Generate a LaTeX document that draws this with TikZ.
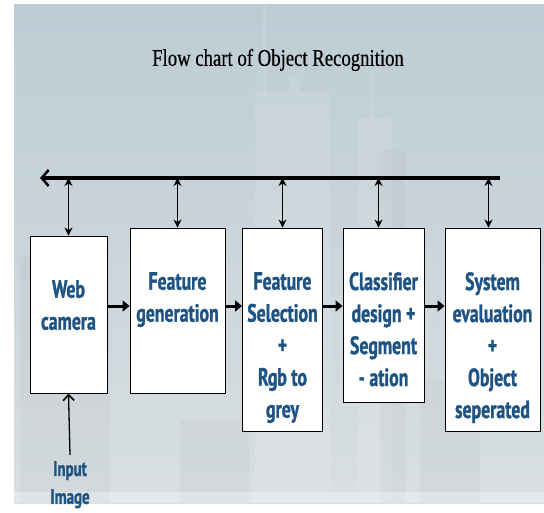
\documentclass[tikz,border=0pt]{standalone}
\usepackage{fontspec}
\setmainfont{Liberation Serif}
\newfontfamily\titlefont[FakeStretch=0.78,FakeBold=0.4]{Liberation Serif}
\newfontfamily\boxfont[FakeStretch=0.71,BoldFeatures={FakeBold=1.2}]{PT Sans}
\usetikzlibrary{arrows.meta,positioning}

\definecolor{bgtop}{RGB}{189,204,212}
\definecolor{bgbot}{RGB}{217,223,226}
\definecolor{txtblue}{RGB}{30,84,132}

\tikzset{
  stage/.style={draw=black,fill=white,line width=0.9pt,inner sep=0pt},
  stagetxt/.style={font=\boxfont\bfseries\fontsize{25}{32}\selectfont,text=txtblue,align=center,inner sep=0pt,anchor=north},
  flow/.style={line width=3pt,-{Triangle[length=7pt,width=11pt]}},
  link/.style={line width=1.5pt,{Stealth[length=8pt,width=8pt]}-{Stealth[length=8pt,width=8pt]}},
  bus/.style={line width=3.5pt,-{Straight Barb[length=7pt,width=16pt,line width=2.5pt]}},
  tower/.style={fill=white,opacity=0.1},
  shadow/.style={fill=gray,opacity=0.06}
}

\begin{document}
\begin{tikzpicture}[x=1pt,y=-1pt]
                \useasboundingbox (0,0) rectangle (544,512);
                % slide background with faint skyline
                \shade[top color=bgtop,bottom color=bgbot] (14,4) rectangle (544,503);
                \fill[tower] (263,4) rectangle (266,95);
                \fill[tower] (255,92) rectangle (330,503);
                \fill[tower] (290,78) rectangle (300,92);
                \fill[tower] (370,70) rectangle (373,118);
                \fill[tower] (358,118) rectangle (391,503);
                \fill[shadow] (380,150) rectangle (405,503);
                \fill[shadow] (20,255) rectangle (110,503);
                \fill[shadow] (180,420) rectangle (250,503);
                \fill[shadow] (420,380) rectangle (480,503);
                \fill[white,opacity=0.3] (14,492) rectangle (544,503);

                \node[font=\titlefont\fontsize{24}{28}\selectfont] (title) at (278,60) {Flow chart of Object Recognition};

                % stages
                \node[stage,minimum width=77pt,minimum height=157pt] (cam) at (68.5,314.5) {};
                \node[stage,minimum width=95pt,minimum height=165pt] (gen) at (177.5,310.5) {};
                \node[stage,minimum width=80pt,minimum height=203pt] (sel) at (282.5,329.5) {};
                \node[stage,minimum width=81pt,minimum height=174pt] (cls) at (383.5,315) {};
                \node[stage,minimum width=95pt,minimum height=203pt] (eva) at (492.5,329.5) {};

                \node[stagetxt] (camtxt) at (68.5,280) {Web\\camera};
                \node[stagetxt] (gentxt) at (177.5,272) {Feature\\generation};
                \node[stagetxt] (seltxt) at (282.5,272) {Feature\\Selection\\+\\Rgb to\\grey};
                \node[stagetxt] (clstxt) at (383.5,272) {Classifier\\design +\\Segment\\- ation};
                \node[stagetxt] (evatxt) at (492.5,272) {System\\evaluation\\+\\Object\\seperated};

                \node[stagetxt,font=\boxfont\bfseries\fontsize{21}{28}\selectfont] (inp) at (70,461) {Input\\Image};

                % connectors
                \coordinate (row) at (0,306);
                \coordinate (busL) at (40,178);
                \coordinate (busR) at (500,178);
                \draw[bus] (busR) -- (busL);
                \draw[link] (cam.north |- busL) -- (cam.north);
                \draw[link] (gen.north |- busL) -- (gen.north);
                \draw[link] (sel.north |- busL) -- (sel.north);
                \draw[link] ([xshift=-5pt]cls.north |- busL) -- ([xshift=-5pt]cls.north);
                \draw[link] ([xshift=-4pt]eva.north |- busL) -- ([xshift=-4pt]eva.north);
                \draw[flow] (cam.east |- row) -- (gen.west |- row);
                \draw[flow] (gen.east |- row) -- (sel.west |- row);
                \draw[flow] (sel.east |- row) -- (cls.west |- row);
                \draw[flow] (cls.east |- row) -- (eva.west |- row);
                \draw[line width=1.3pt,-{Straight Barb[length=6pt,width=11pt,line width=1.6pt]}] ([yshift=6pt]inp.north) -- (cam.south);
            \end{tikzpicture}
\end{document}
